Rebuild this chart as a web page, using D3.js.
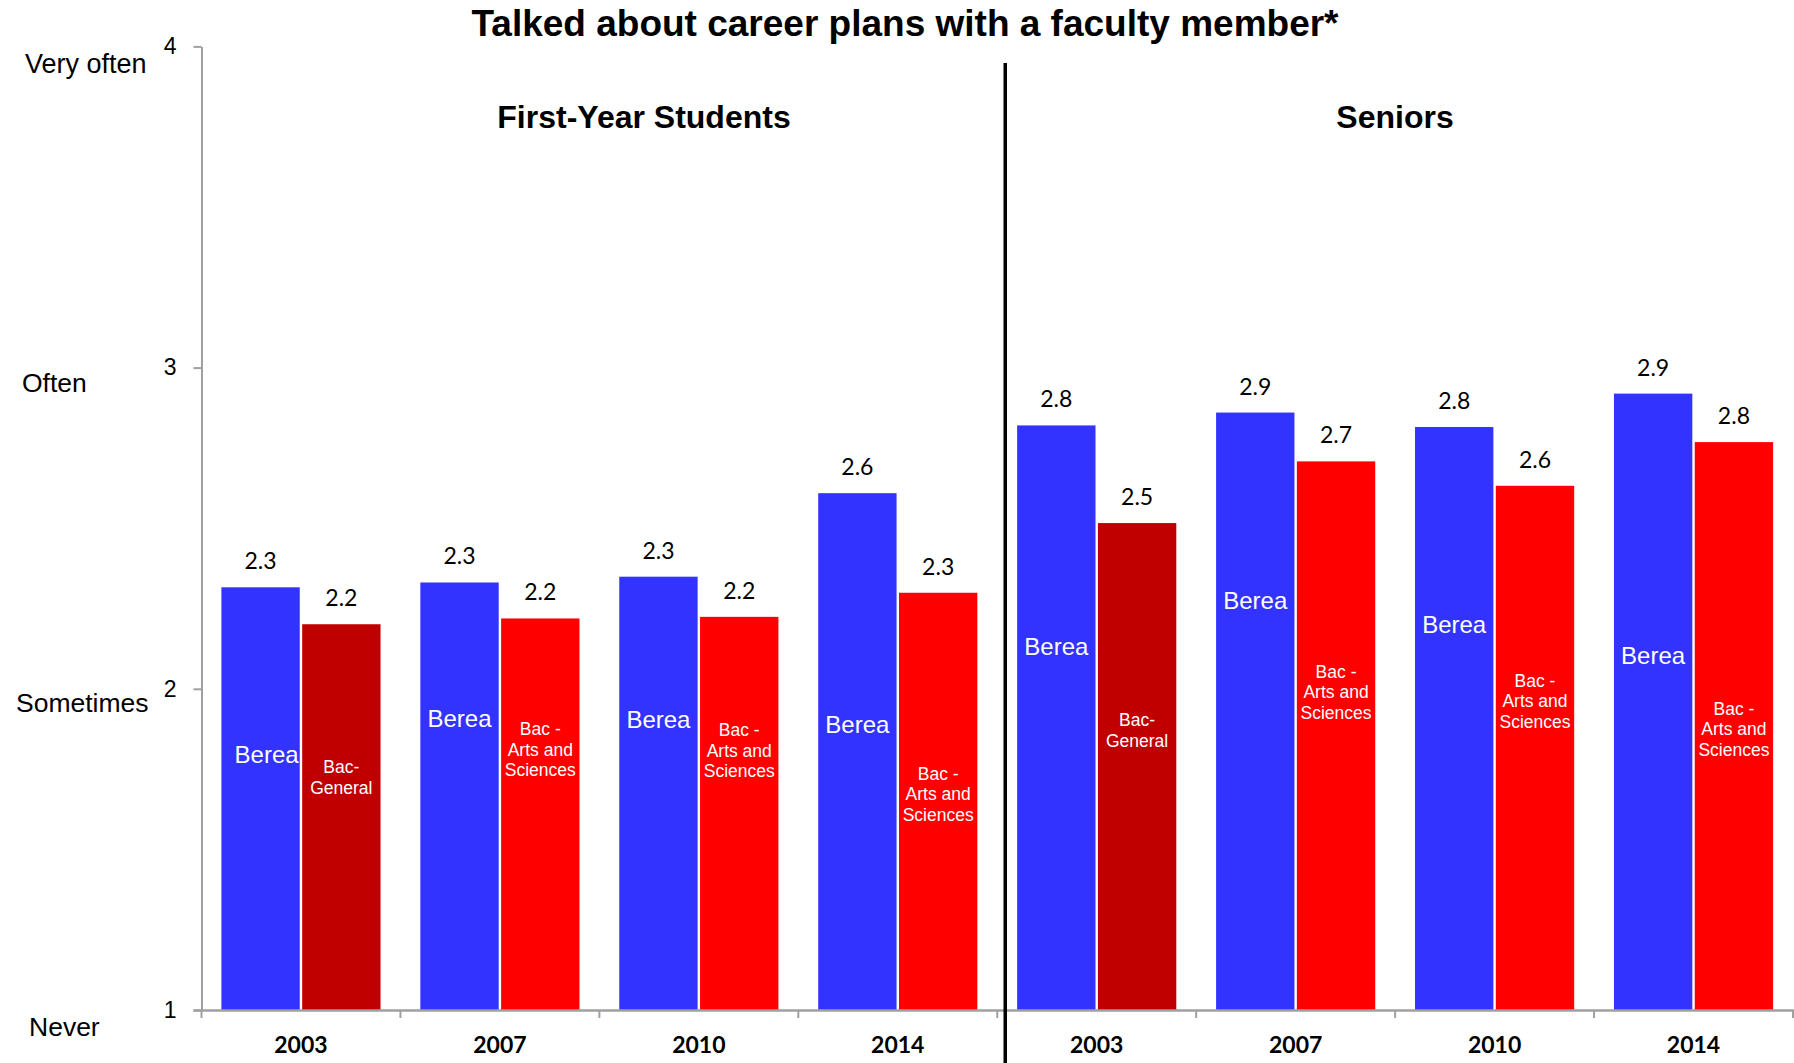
<!DOCTYPE html>
<html>
<head>
<meta charset="utf-8">
<script src="https://cdn.jsdelivr.net/npm/d3@7"></script>
<style>
  html, body { margin: 0; padding: 0; background: #fff; }
  svg { display: block; }
</style>
</head>
<body>
<svg id="chart" width="1794" height="1063"></svg>
<script>
// ---------- data ----------
const title = "Talked about career plans with a faculty member*";
const groupNames = ["First-Year Students", "Seniors"];
const years = ["2003", "2007", "2010", "2014"];
const bereaValues = [2.316, 2.331, 2.349, 2.609, 2.820, 2.860, 2.815, 2.919];
const comparisonValues = [2.201, 2.219, 2.224, 2.299, 2.516, 2.708, 2.632, 2.768];
const comparisonNames = [
  "Bac-General", "Bac - Arts and Sciences", "Bac - Arts and Sciences", "Bac - Arts and Sciences",
  "Bac-General", "Bac - Arts and Sciences", "Bac - Arts and Sciences", "Bac - Arts and Sciences"
];
const comparisonLines = {
  "Bac-General": ["Bac-", "General"],
  "Bac - Arts and Sciences": ["Bac -", "Arts and", "Sciences"]
};
const yTicks = [1, 2, 3, 4];
const frequencyLabels = ["Never", "Sometimes", "Often", "Very often"];

// ---------- layout (label placement, in axis units) ----------
const bereaLabelAt = [1.794, 1.907, 1.904, 1.889, 2.132, 2.274, 2.199, 2.103];
const comparisonLabelAt = [1.725, 1.811, 1.808, 1.672, 1.870, 1.989, 1.961, 1.875];

const colors = { berea: "#3333FF", "Bac-General": "#C00000", "Bac - Arts and Sciences": "#FF0000" };

const rows = d3.range(8).map(i => ({
  key: groupNames[Math.floor(i / 4)] + "|" + years[i % 4],
  year: years[i % 4],
  group: groupNames[Math.floor(i / 4)],
  berea: bereaValues[i],
  comp: comparisonValues[i],
  compName: comparisonNames[i],
  bereaLab: bereaLabelAt[i],
  compLab: comparisonLabelAt[i]
}));

// ---------- scales ----------
const svg = d3.select("#chart");
const x0 = 201.5, x1End = 1793, yBottom = 1010, yTop = 46.4;

const x = d3.scaleBand().domain(rows.map(d => d.key)).range([x0, x1End])
  .paddingInner(0.2).paddingOuter(0.1);
const xs = d3.scaleBand().domain(["berea", "comp"]).range([0, x.bandwidth()]).paddingInner(0.03);
const y = d3.scaleLinear().domain([1, 4]).range([yBottom, yTop]);

const sans = "'Liberation Sans', Arial, sans-serif";
const valueFont = "Lato, 'Open Sans', sans-serif";

// ---------- title ----------
svg.append("text").attr("x", 905).attr("y", 36).attr("text-anchor", "middle")
  .style("font-family", sans).style("font-weight", "bold")
  .style("font-size", "37px").text(title);

// ---------- group headers ----------
const headerX = [644, 1395];
groupNames.forEach((g, i) => {
  svg.append("text").attr("x", headerX[i]).attr("y", 128).attr("text-anchor", "middle")
    .style("font-family", sans).style("font-weight", "bold")
    .style("font-size", "32px").text(g);
});

// ---------- bars ----------
const g = svg.append("g");
const grp = g.selectAll("g.cat").data(rows).join("g").attr("class", "cat")
  .attr("transform", d => `translate(${x(d.key)},0)`);

grp.append("rect").attr("x", xs("berea")).attr("width", xs.bandwidth())
  .attr("y", d => y(d.berea)).attr("height", d => y(1) - y(d.berea))
  .attr("fill", colors.berea);
grp.append("rect").attr("x", xs("comp")).attr("width", xs.bandwidth())
  .attr("y", d => y(d.comp)).attr("height", d => y(1) - y(d.comp))
  .attr("fill", d => colors[d.compName]);

const fmt = d3.format(".1f");
grp.append("text").attr("x", xs("berea") + xs.bandwidth() / 2).attr("y", d => y(d.berea) - 18)
  .attr("text-anchor", "middle").style("font-family", valueFont).style("font-size", "23px")
  .text(d => fmt(d.berea));
grp.append("text").attr("x", xs("comp") + xs.bandwidth() / 2).attr("y", d => y(d.comp) - 18)
  .attr("text-anchor", "middle").style("font-family", valueFont).style("font-size", "23px")
  .text(d => fmt(d.comp));

// inside labels
grp.append("text").attr("x", (d, i) => xs("berea") + xs.bandwidth() / 2 + (i === 0 ? 6 : 0))
  .attr("y", d => y(d.bereaLab))
  .attr("dy", "0.35em").attr("text-anchor", "middle").attr("fill", "#fff")
  .style("font-family", sans).style("font-size", "24px")
  .text("Berea");
grp.each(function(d) {
  const lines = comparisonLines[d.compName];
  const lh = 20.5;
  const cy = y(d.compLab);
  const t = d3.select(this).append("text").attr("text-anchor", "middle").attr("fill", "#fff")
    .style("font-family", sans).style("font-size", "17.5px");
  lines.forEach((ln, j) => {
    t.append("tspan").attr("x", xs("comp") + xs.bandwidth() / 2)
      .attr("y", cy + (j - (lines.length - 1) / 2) * lh).attr("dy", "0.35em").text(ln);
  });
});

// ---------- axes ----------
const axisColor = "#A0A0A0";
const yAxis = svg.append("g").attr("transform", `translate(${x0},0)`)
  .call(d3.axisLeft(y).tickValues(yTicks).tickFormat(d3.format("d")).tickSize(8).tickPadding(17).tickSizeOuter(0));
yAxis.select(".domain").attr("stroke", axisColor).attr("stroke-width", 2);
yAxis.selectAll(".tick line").attr("stroke", axisColor).attr("stroke-width", 2);
yAxis.selectAll(".tick text").style("font-family", sans)
  .style("font-size", "23px").attr("fill", "#000");

const xAxis = svg.append("g").attr("transform", `translate(0,${yBottom})`)
  .call(d3.axisBottom(x).tickFormat(k => k.split("|")[1]).tickSize(0).tickPadding(22).tickSizeOuter(0));
xAxis.select(".domain").attr("stroke", axisColor).attr("stroke-width", 2.5)
  .attr("d", `M${x0 - 8},0.5H1794`);
xAxis.selectAll(".tick text").style("font-family", valueFont).style("font-weight", "bold")
  .style("font-size", "23px").attr("fill", "#000").attr("dy", "0.9em");
// category boundary ticks
const bounds = d3.range(9).map(i => x0 + i * x.step());
xAxis.selectAll("line.bound").data(bounds).join("line").attr("class", "bound")
  .attr("x1", d => d).attr("x2", d => d).attr("y1", 0).attr("y2", 8)
  .attr("stroke", axisColor).attr("stroke-width", 2);

// frequency labels
const freqX = [29, 16, 22, 25];
const freqDy = [26, 23, 24, 27];
frequencyLabels.forEach((lab, i) => {
  svg.append("text").attr("x", freqX[i]).attr("y", y(yTicks[i]) + freqDy[i])
    .style("font-family", sans).style("font-size", i === 3 ? "27px" : "26.5px")
    .text(lab);
});

// divider between groups
const divX = (x(rows[3].key) + x.bandwidth() + x(rows[4].key)) / 2 + 8;
svg.append("line").attr("x1", divX).attr("x2", divX).attr("y1", 63).attr("y2", 1063)
  .attr("stroke", "#000").attr("stroke-width", 3.5);
</script>
</body>
</html>
